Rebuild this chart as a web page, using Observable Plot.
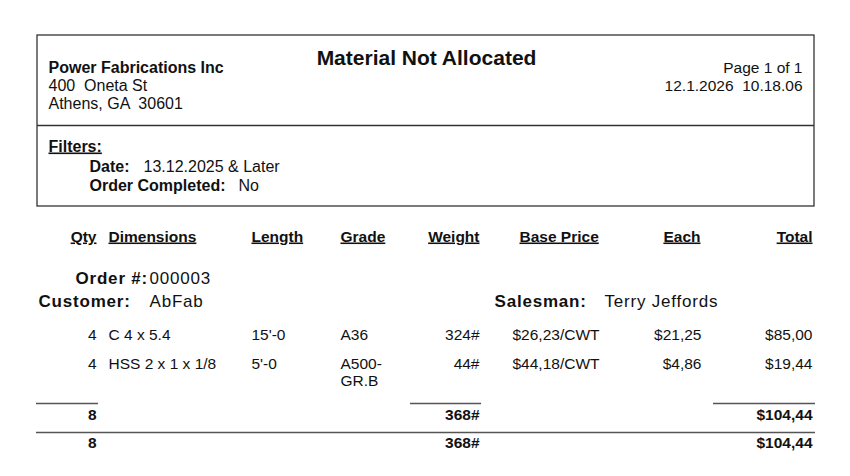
<!DOCTYPE html>
<html>
<head>
<meta charset="utf-8">
<script src="https://cdn.jsdelivr.net/npm/d3@7"></script>
<script src="https://cdn.jsdelivr.net/npm/@observablehq/plot@0.6"></script>
<style>
  html, body { margin: 0; padding: 0; background: #fff; }
  #chart svg { display: block; font-family: "Liberation Sans", Arial, sans-serif; }
</style>
</head>
<body>
<div id="chart"></div>
<script>
// ---------- report data ----------
const reportTitle = "Material Not Allocated";
const companyLines = ["Power Fabrications Inc", "400  Oneta St", "Athens, GA  30601"];
const pageLines = ["Page 1 of 1", "12.1.2026  10.18.06"];
const filterLabels = ["Date:", "Order Completed:"];
const filterValues = ["13.12.2025 & Later", "No"];
const columnHeaders = ["Qty", "Dimensions", "Length", "Grade", "Weight", "Base Price", "Each", "Total"];
const orderNumber = "000003";
const customerName = "AbFab";
const salesmanName = "Terry Jeffords";
const qtys = [4, 4];
const dimensions = ["C 4 x 5.4", "HSS 2 x 1 x 1/8"];
const lengths = ["15'-0", "5'-0"];
const grades = ["A36", "A500-\nGR.B"];
const weights = [324, 44];
const basePrices = ["$26,23/CWT", "$44,18/CWT"];
const eachPrices = ["$21,25", "$4,86"];
const lineTotals = ["$85,00", "$19,44"];
const orderTotals = ["8", "368#", "$104,44"];
const grandTotals = ["8", "368#", "$104,44"];

// ---------- page layout (pixels) ----------
const W = 850, H = 476;
const L = {
  boxX1: 37, boxX2: 814, boxY1: 35, boxY2: 206, divY: 125,
  leftX: 48, rightX: 802, titleX: 426, titleY: 64,
  companyY: [72, 90, 108], pageY: [72, 90],
  filtersY: 151, filterLabelX: 89, filterValueX: [143, 238], filterY: [171, 190],
  headerY: 241,
  colX: [96, 108, 251, 340, 479, 512, 701, 812],
  colAnchor: ["end", "start", "start", "start", "end", "start", "end", "end"],
  headerX: [96, 108, 251, 340, 479, 519, 700, 812],
  headerAnchor: ["end", "start", "start", "start", "end", "start", "end", "end"],
  orderY: 283, orderLabelX: 75, orderValueX: 149,
  custY: 306, custLabelX: 38, custValueX: 149, salesLabelX: 494, salesValueX: 604,
  rowY: [339, 368], lineStep: 17.5,
  subRuleY: 403, subY: 419, grandRuleY: 432, grandY: 447,
  subRules: [[36, 98], [410, 481], [713, 815]],
  totalCols: [0, 4, 7]
};

// ---------- build text tables ----------
const groups = {head: [], page: [], headBold: [], filt: [], filtBold: [], under: [], hdr: [], bigBold: [], big: [], row: [], tot: []};
companyLines.forEach((t, i) => (i === 0 ? groups.headBold : groups.head).push({x: L.leftX, y: L.companyY[i], t, a: "start"}));
pageLines.forEach((t, i) => groups.page.push({x: L.rightX, y: L.pageY[i], t, a: "end"}));
groups.under.push({x: L.leftX, y: L.filtersY, t: "Filters:", a: "start"});
filterLabels.forEach((t, i) => {
  groups.filtBold.push({x: L.filterLabelX, y: L.filterY[i], t, a: "start"});
  groups.filt.push({x: L.filterValueX[i], y: L.filterY[i], t: filterValues[i], a: "start"});
});
columnHeaders.forEach((t, i) => groups.hdr.push({x: L.headerX[i], y: L.headerY, t, a: L.headerAnchor[i]}));
groups.bigBold.push({x: L.orderLabelX, y: L.orderY, t: "Order #:", a: "start"});
groups.big.push({x: L.orderValueX, y: L.orderY, t: orderNumber, a: "start"});
groups.bigBold.push({x: L.custLabelX, y: L.custY, t: "Customer:", a: "start"});
groups.big.push({x: L.custValueX, y: L.custY, t: customerName, a: "start"});
groups.bigBold.push({x: L.salesLabelX, y: L.custY, t: "Salesman:", a: "start"});
groups.big.push({x: L.salesValueX, y: L.custY, t: salesmanName, a: "start"});
qtys.forEach((q, r) => {
  const cells = [String(q), dimensions[r], lengths[r], grades[r], weights[r] + "#", basePrices[r], eachPrices[r], lineTotals[r]];
  cells.forEach((c, i) => c.split("\n").forEach((line, k) =>
    groups.row.push({x: L.colX[i], y: L.rowY[r] + k * L.lineStep, t: line, a: L.colAnchor[i]})));
});
orderTotals.forEach((t, i) => groups.tot.push({x: L.colX[L.totalCols[i]], y: L.subY, t, a: "end"}));
grandTotals.forEach((t, i) => groups.tot.push({x: L.colX[L.totalCols[i]], y: L.grandY, t, a: "end"}));

const rules = L.subRules.map(([x1, x2]) => ({x1, x2, y: L.subRuleY}));
rules.push({x1: 36, x2: 815, y: L.grandRuleY});

const styles = {
  head: {fontSize: 16}, page: {fontSize: 15.5}, headBold: {fontSize: 16, fontWeight: "bold"},
  filt: {fontSize: 16}, filtBold: {fontSize: 16, fontWeight: "bold"},
  under: {fontSize: 16, fontWeight: "bold"}, hdr: {fontSize: 15.5, fontWeight: "bold"},
  bigBold: {fontSize: 17, fontWeight: "bold"}, big: {fontSize: 17},
  row: {fontSize: 15.5}, tot: {fontSize: 15.5, fontWeight: "bold"}
};
const textMarks = Object.entries(groups).flatMap(([name, data]) =>
  ["start", "end"].map(anchor => Plot.text(data.filter(d => d.a === anchor), {
    x: "x", y: "y", text: "t", textAnchor: anchor, lineAnchor: "bottom",
    fill: "#111", ariaLabel: () => name, ...styles[name]
  })));

const chart = Plot.plot({
  width: W, height: H, margin: 0,
  x: {domain: [0, W], range: [0, W], axis: null},
  y: {domain: [0, H], range: [0, H], axis: null},
  style: {background: "#fff"},
  marks: [
    Plot.rect([{x1: L.boxX1, x2: L.boxX2, y1: L.boxY1, y2: L.boxY2}],
      {x1: "x1", x2: "x2", y1: "y1", y2: "y2", fill: "none", stroke: "#333", strokeWidth: 1.3}),
    Plot.ruleY([L.divY], {x1: L.boxX1, x2: L.boxX2, stroke: "#333", strokeWidth: 1.3}),
    Plot.ruleY(rules, {y: "y", x1: "x1", x2: "x2", stroke: "#555", strokeWidth: 1.6}),
    Plot.text([reportTitle], {x: L.titleX, y: L.titleY, text: d => d, fontSize: 21, fontWeight: "bold",
      lineAnchor: "bottom", fill: "#111"}),
    ...textMarks
  ]
});

const sel = names => names.map(n => `text[aria-label="${n}"]`).join(", ");
d3.select(chart).selectAll(sel(["under", "hdr"]))
  .style("text-decoration", "underline").attr("text-decoration", "underline");
d3.select(chart).selectAll(sel(["big", "bigBold"])).style("letter-spacing", "0.8px");
document.getElementById("chart").appendChild(chart);
</script>
</body>
</html>
